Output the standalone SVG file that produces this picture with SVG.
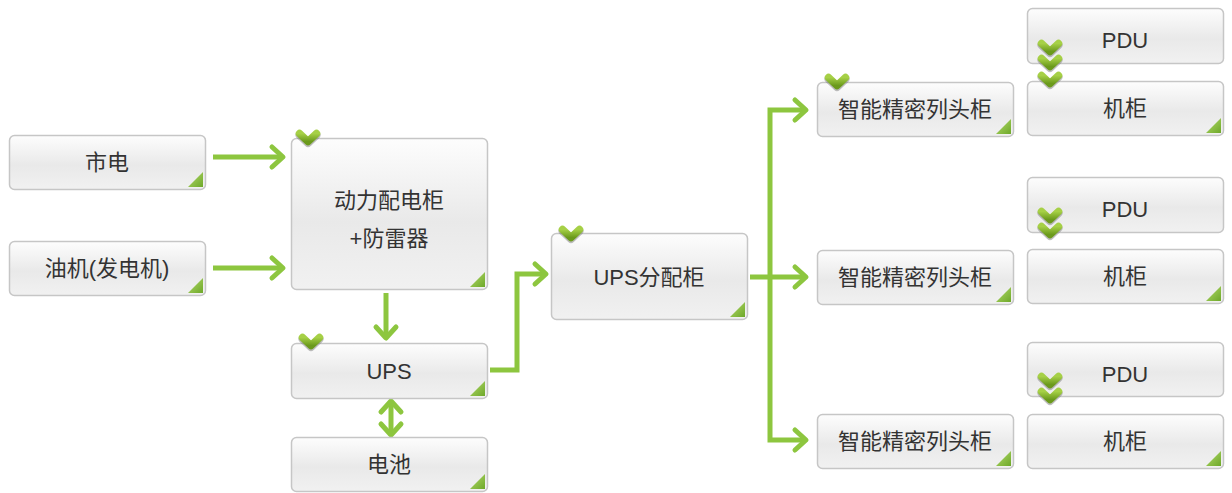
<svg xmlns="http://www.w3.org/2000/svg" xmlns:xlink="http://www.w3.org/1999/xlink" width="1232" height="493" viewBox="0 0 1232 493">
<defs>
<linearGradient id="boxg" x1="0" y1="0" x2="0" y2="1">
<stop offset="0" stop-color="#fdfdfd"/>
<stop offset="0.55" stop-color="#e9e9e9"/>
<stop offset="1" stop-color="#f1f1f1"/>
</linearGradient>
<linearGradient id="triG" x1="0" y1="0" x2="1" y2="1">
<stop offset="0" stop-color="#b5dc6c"/>
<stop offset="1" stop-color="#6ea82a"/>
</linearGradient>
<linearGradient id="chkG" x1="0" y1="0" x2="0" y2="1">
<stop offset="0" stop-color="#a6d046"/>
<stop offset="1" stop-color="#6b9a1c"/>
</linearGradient>
<marker id="ah" markerUnits="userSpaceOnUse" viewBox="-16 -14 20 28" refX="0" refY="0" markerWidth="20" markerHeight="28" orient="auto-start-reverse">
<path d="M-11,-10 L0,0 L-11,10" fill="none" stroke="#8dc63f" stroke-width="5" stroke-linecap="round" stroke-linejoin="round"/>
</marker>
<g id="chk">
<path d="M-8.5,-3.5 L0,4.5 L8.5,-3.5" fill="none" stroke="#6e6e6e" stroke-opacity="0.45" stroke-width="8" stroke-linecap="round" stroke-linejoin="round" transform="translate(0,1.5)"/>
<path d="M-8.5,-3.5 L0,4.5 L8.5,-3.5" fill="none" stroke="url(#chkG)" stroke-width="7.5" stroke-linecap="round" stroke-linejoin="round"/>
</g>
<g id="tri"><polygon points="0,-15 0,0 -15,0" fill="url(#triG)"/></g>
</defs>
<style>
.box{fill:url(#boxg);stroke:#c6c6c6;stroke-width:1.5}
.t{font-family:"Liberation Sans","Noto Sans CJK SC",sans-serif;font-size:22px;fill:#333;text-anchor:middle}
.c{fill:none;stroke:#8dc63f;stroke-width:5;stroke-linejoin:miter}
</style>

<g id="connectors">
<path class="c" d="M213,157 H283" marker-end="url(#ah)"/>
<path class="c" d="M213,268 H283" marker-end="url(#ah)"/>
<path class="c" d="M386,293 V338" marker-end="url(#ah)"/>
<path class="c" d="M391,401 V435" marker-start="url(#ah)" marker-end="url(#ah)"/>
<path class="c" d="M490,370 H517 V274 H546" marker-end="url(#ah)"/>
<path class="c" d="M750,277 H806" marker-end="url(#ah)"/>
<path class="c" d="M806,110 H770 V440 H806" marker-start="url(#ah)" marker-end="url(#ah)"/>
</g>

<g id="n-shidian">
<rect class="box" x="9.5" y="135.5" width="196" height="54" rx="5"/>
<use href="#tri" x="203" y="187"/>
<text class="t" x="107" y="170">市电</text>
</g>
<g id="n-youji">
<rect class="box" x="9.5" y="241.5" width="196" height="54" rx="5"/>
<use href="#tri" x="203" y="293"/>
<text class="t" x="107" y="276">油机(发电机)</text>
</g>
<g id="n-dongli">
<rect class="box" x="291.5" y="138.5" width="196" height="151" rx="5"/>
<use href="#tri" x="485" y="287"/>
<text class="t" x="389" y="208">动力配电柜</text>
<text class="t" x="389" y="246">+防雷器</text>
<use href="#chk" x="308" y="137"/>
</g>
<g id="n-ups">
<rect class="box" x="291.5" y="343.5" width="196" height="55" rx="5"/>
<use href="#tri" x="485" y="396"/>
<text class="t" x="389" y="379">UPS</text>
<use href="#chk" x="311" y="341"/>
</g>
<g id="n-battery">
<rect class="box" x="291.5" y="437.5" width="196" height="54" rx="5"/>
<use href="#tri" x="485" y="489"/>
<text class="t" x="389" y="472">电池</text>
</g>
<g id="n-upsdist">
<rect class="box" x="551.5" y="233.5" width="196" height="86" rx="5"/>
<use href="#tri" x="745" y="317"/>
<text class="t" x="649" y="285">UPS分配柜</text>
<use href="#chk" x="571" y="233"/>
</g>
<g id="n-head1">
<rect class="box" x="817.5" y="82.5" width="196" height="54" rx="5"/>
<use href="#tri" x="1011" y="134"/>
<text class="t" x="915" y="117">智能精密列头柜</text>
<use href="#chk" x="837" y="81"/>
</g>
<g id="n-head2">
<rect class="box" x="817.5" y="250.5" width="196" height="54" rx="5"/>
<use href="#tri" x="1011" y="302"/>
<text class="t" x="915" y="285">智能精密列头柜</text>
</g>
<g id="n-head3">
<rect class="box" x="817.5" y="414.5" width="196" height="54" rx="5"/>
<use href="#tri" x="1011" y="466"/>
<text class="t" x="915" y="449">智能精密列头柜</text>
</g>

<g id="n-pdu1">
<rect class="box" x="1027.5" y="8.5" width="196" height="55" rx="5"/>
<text class="t" x="1125" y="48">PDU</text>
</g>
<g id="n-rack1">
<rect class="box" x="1027.5" y="81.5" width="196" height="54" rx="5"/>
<use href="#tri" x="1221" y="133"/>
<text class="t" x="1125" y="116">机柜</text>
</g>
<g id="n-pdu2">
<rect class="box" x="1027.5" y="177.5" width="196" height="55" rx="5"/>
<text class="t" x="1125" y="217">PDU</text>
</g>
<g id="n-rack2">
<rect class="box" x="1027.5" y="249.5" width="196" height="54" rx="5"/>
<use href="#tri" x="1221" y="301"/>
<text class="t" x="1125" y="284">机柜</text>
</g>
<g id="n-pdu3">
<rect class="box" x="1027.5" y="342.5" width="196" height="54" rx="5"/>
<text class="t" x="1125" y="382">PDU</text>
</g>
<g id="n-rack3">
<rect class="box" x="1027.5" y="414.5" width="196" height="54" rx="5"/>
<use href="#tri" x="1221" y="466"/>
<text class="t" x="1125" y="449">机柜</text>
</g>
<g id="chevrons">
<use href="#chk" x="1050" y="47"/>
<use href="#chk" x="1050" y="62"/>
<use href="#chk" x="1050" y="79"/>
<use href="#chk" x="1050" y="215"/>
<use href="#chk" x="1050" y="230"/>
<use href="#chk" x="1050" y="380"/>
<use href="#chk" x="1050" y="395"/>
</g>
</svg>
